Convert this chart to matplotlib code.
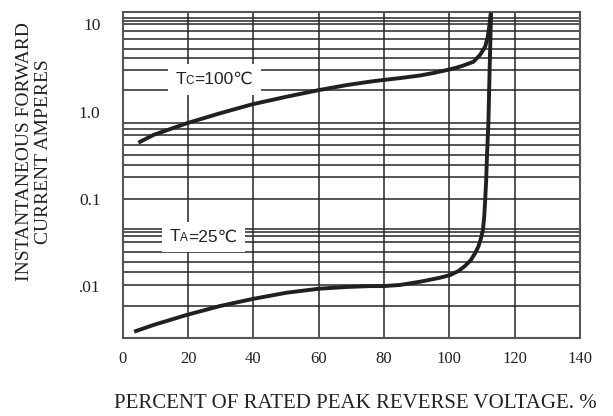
import matplotlib
matplotlib.use("Agg")
import matplotlib.pyplot as plt
from matplotlib.offsetbox import TextArea, HPacker, AnnotationBbox

# ---- data ----
tc_x = [4.8, 9.4, 19.6, 29.8, 39.7, 50.2, 60.1, 68.6, 75.7, 79.8, 85.0, 91.0, 95.0,
        99.2, 102.0, 104.3, 107.4, 109.4, 111.0, 111.8, 112.3, 112.7]
tc_y = [0.441, 0.541, 0.736, 0.959, 1.216, 1.486, 1.77, 2.02, 2.21, 2.31, 2.43, 2.60, 2.77,
        3.0, 3.18, 3.38, 3.74, 4.47, 5.56, 7.25, 9.87, 13.6]

ta_x = [3.5, 9.4, 19.6, 29.8, 39.7, 50.2, 60.1, 68.6, 75.7, 79.8, 84.9, 91.1, 97.2,
        100.3, 102.8, 104.8, 106.6, 107.9, 108.9, 109.7, 110.3, 110.7, 111.0, 111.3,
        111.5, 111.8, 112.0, 112.35, 112.8]
ta_y = [0.0030, 0.00358, 0.00467, 0.00591, 0.00711, 0.0084, 0.00933, 0.00977, 0.0100,
        0.0100, 0.0103, 0.01123, 0.01248, 0.0134, 0.01489, 0.0170, 0.0199, 0.0238,
        0.0283, 0.0353, 0.0440, 0.0625, 0.0971, 0.165, 0.279, 0.517, 0.80, 3.0, 13.6]

x_ticks = [0, 20, 40, 60, 80, 100, 120, 140]
y_ticks = [10, 1.0, 0.1, 0.01]
y_tick_labels = ["10", "1.0", "0.1", ".01"]
x_grid = [20, 40, 60, 80, 100, 120]
y_grid = [11.78, 11.06, 10.0, 8.49, 6.77, 5.24, 4.10, 2.98, 1.76,
          0.748, 0.638, 0.536, 0.412, 0.319, 0.245, 0.177, 0.0997,
          0.0448, 0.0417, 0.0379, 0.0318, 0.0246, 0.0190, 0.0146, 0.0103, 0.00591]

serif = ["Liberation Serif", "DejaVu Serif"]
sans = ["Liberation Sans", "DejaVu Sans"]

fig = plt.figure(figsize=(6.13, 4.16), dpi=100)
ax = fig.add_axes([0.2002, 0.1868, 0.7458, 0.7851])
ax.set_yscale("log")
ax.set_xlim(0, 140)
ax.set_ylim(0.00252, 14.02)

gcol = "#262626"
for v in x_grid:
    ax.axvline(v, color=gcol, lw=1.1, zorder=1)
for v in y_grid:
    ax.axhline(v, color=gcol, lw=1.1, zorder=1)

ax.plot(tc_x, tc_y, color="#231f20", lw=2.8, solid_capstyle="butt",
        solid_joinstyle="round", zorder=5)
ax.plot(ta_x, ta_y, color="#231f20", lw=2.8, solid_capstyle="butt",
        solid_joinstyle="round", zorder=5)

for s in ax.spines.values():
    s.set_color("#555555")
    s.set_linewidth(1.5)

ax.set_xticks(x_ticks)
ax.set_xticklabels([str(t) for t in x_ticks], fontfamily=serif, fontsize=12, color="#222222")
ax.set_yticks(y_ticks)
ax.set_yticklabels(y_tick_labels, fontfamily=serif, fontsize=12.5, color="#222222")
ax.yaxis.set_minor_locator(matplotlib.ticker.NullLocator())
ax.tick_params(axis="x", length=0, pad=9)
ax.tick_params(axis="y", length=0, pad=16)


def label(main, sub, rest, xy):
    parts = [
        TextArea(main, textprops=dict(fontsize=12.5, family=sans, color="#222222")),
        TextArea(sub, textprops=dict(fontsize=8.5, family=sans, color="#222222")),
        TextArea(rest, textprops=dict(fontsize=12.5, family=sans, color="#222222")),
    ]
    pack = HPacker(children=parts, align="baseline", pad=0, sep=0)
    ab = AnnotationBbox(pack, xy, xycoords="data", frameon=True, pad=0.55,
                        bboxprops=dict(facecolor="white", edgecolor="none"), zorder=4)
    ax.add_artist(ab)


label("T", "C", "=100℃", (28.0, 2.34))
label("T", "A", "=25℃", (24.6, 0.0366))

fig.text(355 / 613, 1 - 403 / 416, "PERCENT OF RATED PEAK REVERSE VOLTAGE. %",
         ha="center", va="center", fontfamily=serif, fontsize=15, color="#222222")
fig.text(34 / 613, 1 - 152 / 416, "INSTANTANEOUS FORWARD\nCURRENT AMPERES",
         ha="center", va="center", rotation=90, fontfamily=serif, fontsize=14,
         linespacing=1.15, multialignment="center", color="#222222")

fig.savefig("out.png", dpi=100)
